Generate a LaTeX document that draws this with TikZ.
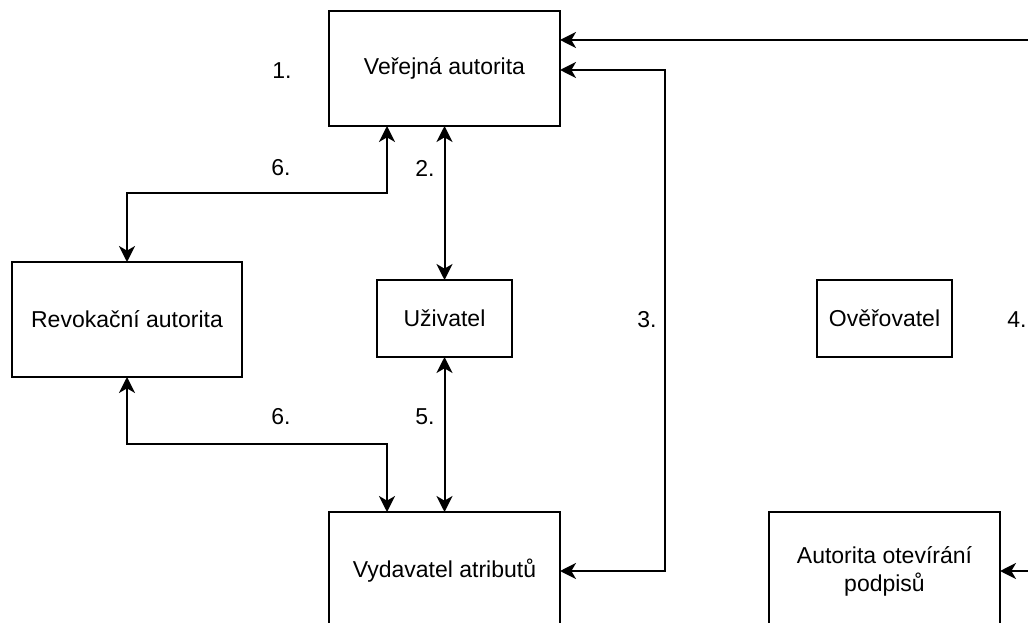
\documentclass[tikz,border=0pt]{standalone}
\usepackage{fontspec}
\setmainfont{Liberation Sans}
\usetikzlibrary{arrows.meta}
\begin{document}
\begin{tikzpicture}[x=0.75pt,y=-0.75pt,
  box/.style={draw=black, line width=1.5pt, fill=white, inner sep=0pt, outer sep=0pt, align=center,
    font=\fontsize{17.25}{21}\selectfont},
  lbl/.style={inner sep=0pt, font=\fontsize{17.25}{21}\selectfont},
  tip/.tip={Stealth[length=12pt,width=12pt,inset=3.5pt]},
  conn/.style={line width=1.5pt},
  >={tip}]
\useasboundingbox (0,0) rectangle (1028,623);
\clip (0,0) rectangle (1028,623);
% boxes
\node[box, minimum width=173.25pt, minimum height=86.25pt] (V) at (444.5,68.5) {Veřejná autorita};
\node[box, minimum width=172.5pt, minimum height=86.25pt] (R) at (127,319.5) {Revokační autorita};
\node[box, minimum width=101.25pt, minimum height=57.75pt] (U) at (444.5,318.5) {Uživatel};
\node[box, minimum width=101.25pt, minimum height=57.75pt] (O) at (884.5,318.5) {Ověřovatel};
\node[box, minimum width=173.25pt, minimum height=88.5pt] (A) at (444.5,571) {Vydavatel atributů};
\node[box, minimum width=173.25pt, minimum height=88.5pt] (P) at (884.5,571) {Autorita otevírání\\podpisů};
% labels
\node[lbl] (l1) at (282,71) {1.};
\node[lbl] (l6a) at (281,168) {6.};
\node[lbl] (l2) at (425,168) {2.};
\node[lbl] (l3) at (647,320) {3.};
\node[lbl, anchor=west] (l4) at (1007,320) {4.};
\node[lbl] (l5) at (425,417) {5.};
\node[lbl] (l6b) at (281,417) {6.};
% coordinates
\coordinate (in1) at (1028,40);
\coordinate (in2) at (1028,571);
\coordinate (v3) at (560,70);
\coordinate (c3a) at (665,70);
\coordinate (vs6) at (387,126);
\coordinate (c6a) at (387,193);
\coordinate (c6b) at (387,444);
\coordinate (as6) at (387,512);
% connectors
\draw[conn,->] (in1) -- (in1 -| V.east);
\draw[conn,->] (in2) -- (P.east);
\draw[conn,<->] (v3) -- (c3a) |- (A.east);
\draw[conn,<->] (V.south) -- (U.north);
\draw[conn,<->] (U.south) -- (A.north);
\draw[conn,<->] (vs6) -- (c6a) -| (R.north);
\draw[conn,<->] (R.south) |- (c6b) -- (as6);
\end{tikzpicture}
\end{document}
